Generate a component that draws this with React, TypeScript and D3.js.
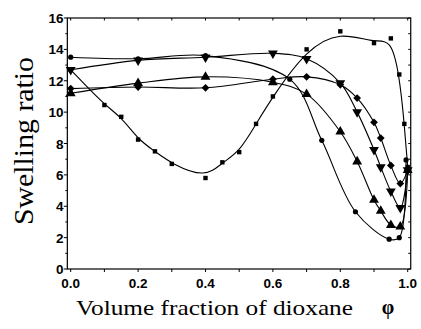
import * as d3 from 'd3';

// volume fraction of dioxane per series, and the swelling ratio
const sqX = [0, 0.1, 0.15, 0.2, 0.25, 0.3, 0.4, 0.45, 0.5, 0.55, 0.6, 0.7, 0.8, 0.9, 0.95, 0.975, 0.99, 1.0];
const sqY = [12.7, 10.45, 9.7, 8.25, 7.5, 6.7, 5.8, 6.8, 7.45, 9.25, 11.0, 14.0, 15.15, 14.4, 14.7, 12.4, 9.25, 6.5];

const ciX = [0, 0.2, 0.4, 0.65, 0.745, 0.845, 0.945, 0.975, 0.995];
const ciY = [13.5, 13.4, 13.6, 12.1, 8.2, 3.65, 1.9, 2.0, 6.95];

const tdX = [0, 0.2, 0.4, 0.6, 0.7, 0.8, 0.85, 0.9, 0.92, 0.95, 0.978, 1.0];
const tdY = [12.7, 13.3, 13.5, 13.75, 13.4, 11.85, 10.0, 7.6, 6.5, 4.95, 3.9, 6.3];

const diX = [0, 0.2, 0.4, 0.6, 0.7, 0.8, 0.85, 0.9, 0.92, 0.95, 0.978, 1.0];
const diY = [11.5, 11.6, 11.55, 12.1, 12.25, 11.75, 10.9, 9.35, 8.35, 6.6, 5.45, 6.3];

const tuX = [0, 0.2, 0.4, 0.6, 0.7, 0.8, 0.85, 0.9, 0.92, 0.95, 0.978, 1.0];
const tuY = [11.2, 11.85, 12.25, 11.9, 11.15, 8.75, 6.85, 4.4, 3.7, 2.8, 2.7, 6.3];

const xTicks = [0, 0.2, 0.4, 0.6, 0.8, 1.0];
const yTicks = [0, 2, 4, 6, 8, 10, 12, 14, 16];

const W = 421;
const H = 329;

const App = () => {
  const x = d3.scaleLinear().domain([0, 1]).range([70.7, 407.7]);
  const y = d3.scaleLinear().domain([0, 16]).range([269, 18]);

  const left = x(-0.01);
  const right = x(1.009);
  const top = y(16);
  const bottom = y(0);

  const series = [
    { xs: sqX, ys: sqY, mark: 'square', curve: d3.curveBasis },
    { xs: ciX, ys: ciY, mark: 'circle', curve: d3.curveCatmullRom.alpha(0.5) },
    { xs: tdX, ys: tdY, mark: 'tdown', curve: d3.curveCatmullRom.alpha(0.5) },
    { xs: diX, ys: diY, mark: 'diamond', curve: d3.curveCatmullRom.alpha(0.5) },
    { xs: tuX, ys: tuY, mark: 'tup', curve: d3.curveCatmullRom.alpha(0.5) },
  ];

  const tri = d3.symbol(d3.symbolTriangle, 42)() as string;
  const dia = d3.symbol(d3.symbolSquare, 30)() as string;

  const marker = (m: string, cx: number, cy: number, k: number) => {
    if (m === 'square') return <rect key={k} x={cx - 2.2} y={cy - 2.2} width={4.4} height={4.4} fill="#000" />;
    if (m === 'circle') return <circle key={k} cx={cx} cy={cy} r={2.6} fill="#000" />;
    if (m === 'tdown') return <path key={k} d={tri} transform={`translate(${cx},${cy}) rotate(180)`} fill="#000" />;
    if (m === 'diamond') return <path key={k} d={dia} transform={`translate(${cx},${cy}) rotate(45)`} fill="#000" />;
    return <path key={k} d={tri} transform={`translate(${cx},${cy})`} fill="#000" />;
  };

  const minorX = d3.range(0, 11).map(i => i / 10);
  const minorY = d3.range(0, 17);

  return (
    <svg width={W} height={H} style={{ position: 'absolute', left: 0, top: 0, background: '#fff' }}>
      {/* frame */}
      <rect x={left} y={top} width={right - left} height={bottom - top} fill="none" stroke="#000" strokeWidth={1.2} />

      {/* ticks bottom / top */}
      {minorX.map((v, i) => (
        <g key={'tx' + i}>
          <line x1={x(v)} x2={x(v)} y1={bottom} y2={bottom + 3} stroke="#000" />
          <line x1={x(v)} x2={x(v)} y1={top} y2={top + 2.5} stroke="#000" />
        </g>
      ))}
      {/* ticks left / right */}
      {minorY.map((v, i) => (
        <g key={'ty' + i}>
          <line x1={left} x2={left - (v % 2 === 0 ? 3.5 : 2)} y1={y(v)} y2={y(v)} stroke="#000" />
          <line x1={right} x2={right - 2.5} y1={y(v)} y2={y(v)} stroke="#000" />
        </g>
      ))}

      {xTicks.map((v, i) => (
        <text key={'xl' + i} x={x(v)} y={288} textAnchor="middle"
          style={{ font: 'bold 13.5px "Liberation Sans", Arial, sans-serif' }}>{v.toFixed(1)}</text>
      ))}
      {yTicks.map((v, i) => (
        <text key={'yl' + i} x={63.5} y={y(v) + 5} textAnchor="end"
          style={{ font: 'bold 13.5px "Liberation Sans", Arial, sans-serif' }}>{v}</text>
      ))}

      {/* curves and markers */}
      {series.map((s, si) => {
        const pts = s.xs.map((v, i) => [x(v), y(s.ys[i])] as [number, number]);
        const line = d3.line().curve(s.curve);
        return (
          <g key={'s' + si}>
            <path d={line(pts) as string} fill="none" stroke="#000" strokeWidth={1.1} />
            {pts.map((p, i) => marker(s.mark, p[0], p[1], i))}
          </g>
        );
      })}

      {/* axis titles */}
      <text transform="translate(33,141) rotate(-90)" textAnchor="middle" textLength={168} lengthAdjust="spacingAndGlyphs"
        style={{ font: '28px "Liberation Serif", "Times New Roman", serif' }}>Swelling ratio</text>
      <text x={76} y={315} textLength={277} lengthAdjust="spacingAndGlyphs"
        style={{ font: '21px "Liberation Serif", "Times New Roman", serif' }}>Volume fraction of dioxane</text>
      <text x={388} y={314} textAnchor="middle"
        style={{ font: 'bold 20px "Liberation Serif", "Times New Roman", serif' }}>φ</text>
    </svg>
  );
};

export default App;
